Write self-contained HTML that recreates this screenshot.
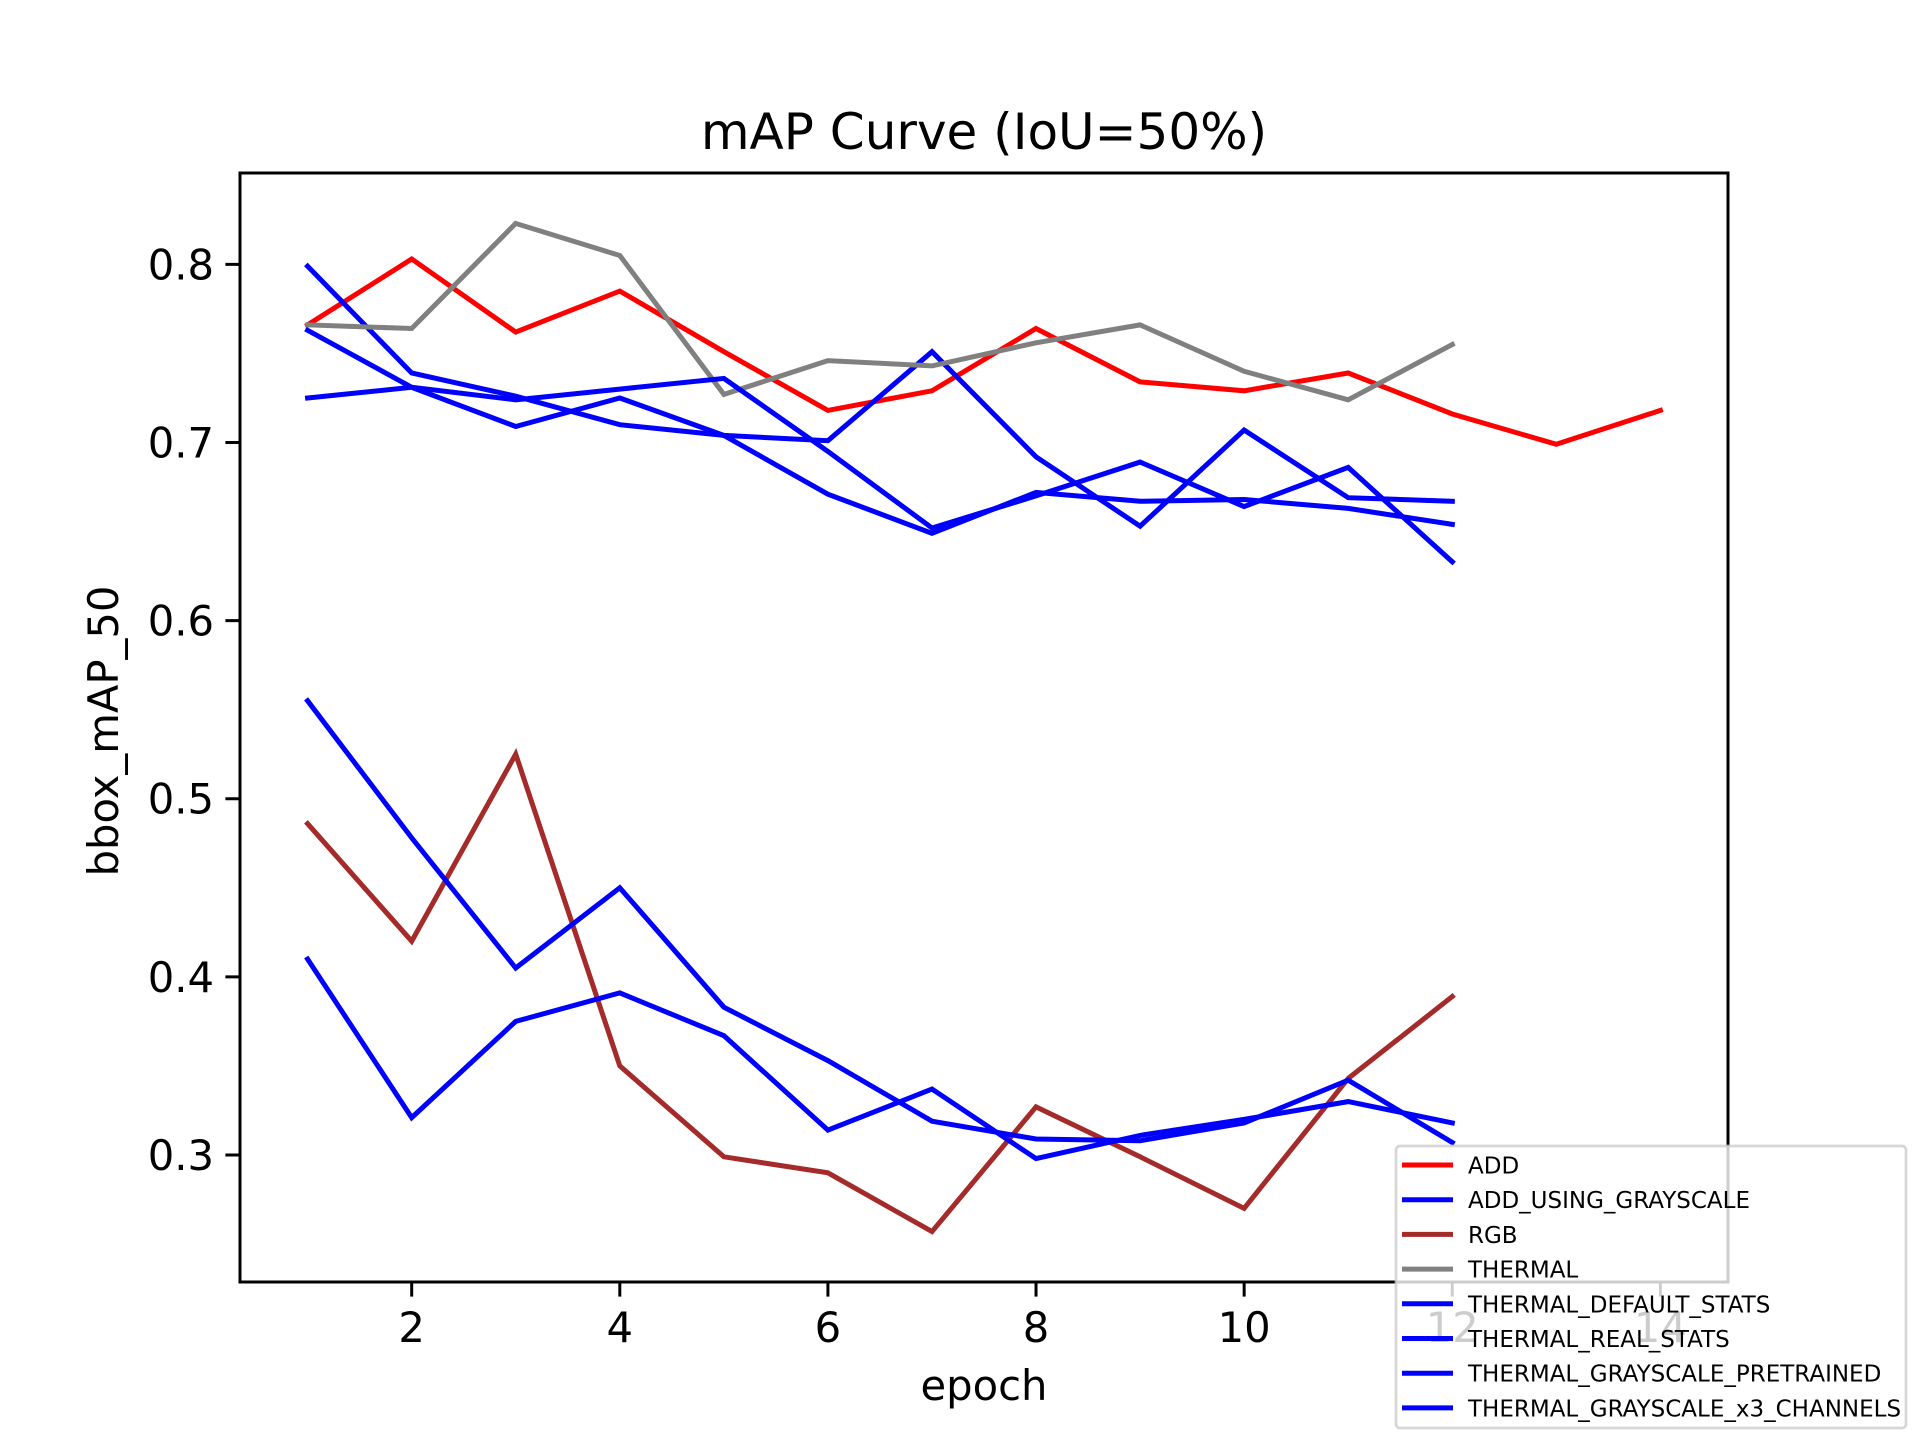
<!DOCTYPE html>
<html><head><meta charset="utf-8"><style>
html,body{margin:0;padding:0;background:#fff}
svg{display:block;font-family:"DejaVu Sans","Liberation Sans",sans-serif}
</style></head><body>
<svg id="chart" width="1920" height="1440" viewBox="0 0 1920 1440" xmlns="http://www.w3.org/2000/svg">
<rect width="1920" height="1440" fill="#fff"/>
<text x="984" y="149" font-size="50" text-anchor="middle">mAP Curve (IoU=50%)</text>
<g id="plot"></g>
<text x="984" y="1400" font-size="41.7" text-anchor="middle">epoch</text>
<text transform="translate(118,731) rotate(-90)" font-size="41.7" text-anchor="middle">bbox_mAP_50</text>
<g id="legend"></g>
</svg>
<script>
const xTicks = [2, 4, 6, 8, 10, 12, 14];
const yTicks = [0.3, 0.4, 0.5, 0.6, 0.7, 0.8];
const seriesNames = ["ADD","ADD_USING_GRAYSCALE","RGB","THERMAL","THERMAL_DEFAULT_STATS","THERMAL_REAL_STATS","THERMAL_GRAYSCALE_PRETRAINED","THERMAL_GRAYSCALE_x3_CHANNELS"];
const seriesColors = ["#ff0000","#0000ff","#a52a2a","#808080","#0000ff","#0000ff","#0000ff","#0000ff"];
const addValues = [0.766,0.803,0.762,0.785,0.751,0.718,0.729,0.764,0.734,0.729,0.739,0.716,0.699,0.718];
const addGrayValues = [0.799,0.739,0.726,0.710,0.704,0.701,0.751,0.692,0.653,0.707,0.669,0.667];
const rgbValues = [0.486,0.420,0.525,0.350,0.299,0.290,0.257,0.327,0.299,0.270,0.343,0.389];
const thermalValues = [0.766,0.764,0.823,0.805,0.727,0.746,0.743,0.756,0.766,0.740,0.724,0.755];
const defaultStatsValues = [0.763,0.731,0.709,0.725,0.704,0.671,0.649,0.672,0.667,0.668,0.663,0.654];
const realStatsValues = [0.725,0.731,0.724,0.730,0.736,0.695,0.652,0.670,0.689,0.664,0.686,0.633];
const pretrainedValues = [0.555,0.478,0.405,0.450,0.383,0.353,0.319,0.309,0.308,0.318,0.342,0.307];
const x3Values = [0.410,0.321,0.375,0.391,0.367,0.314,0.337,0.298,0.311,0.320,0.330,0.318];

const allSeries = [addValues, addGrayValues, rgbValues, thermalValues, defaultStatsValues, realStatsValues, pretrainedValues, x3Values];
const seriesKeys = ["add","add-using-grayscale","rgb","thermal","thermal-default-stats","thermal-real-stats","thermal-grayscale-pretrained","thermal-grayscale-x3-channels"];
const NS = "http://www.w3.org/2000/svg";
const L = 240, R = 1728, T = 173, B = 1282;
let maxLen = 0, ymin = Infinity, ymax = -Infinity;
allSeries.forEach(s => { maxLen = Math.max(maxLen, s.length); s.forEach(v => { ymin = Math.min(ymin, v); ymax = Math.max(ymax, v); }); });
const xr = maxLen - 1, x0 = 1 - 0.05 * xr, x1 = maxLen + 0.05 * xr;
const yr = ymax - ymin, y0 = ymin - 0.05 * yr, y1 = ymax + 0.05 * yr;
const xs = v => L + (v - x0) / (x1 - x0) * (R - L);
const ys = v => B - (v - y0) / (y1 - y0) * (B - T);
const plot = document.getElementById('plot');
function mk(tag, attrs, parent) { const e = document.createElementNS(NS, tag); for (const k in attrs) e.setAttribute(k, attrs[k]); parent.appendChild(e); return e; }

allSeries.forEach((s, i) => {
  const pts = s.map((v, j) => xs(j + 1).toFixed(1) + ',' + ys(v).toFixed(1)).join(' ');
  const pl = mk('polyline', {points: pts, fill: 'none', stroke: seriesColors[i], 'stroke-width': 5, 'stroke-linejoin': 'miter', 'stroke-linecap': 'square'}, plot);
  
  
});
const frame = mk('rect', {x: L, y: T, width: R - L, height: B - T, fill: 'none', stroke: '#000', 'stroke-width': 3}, plot);


xTicks.forEach(t => {
  const x = xs(t);
  const tk = mk('line', {x1: x, x2: x, y1: B, y2: B + 14.6, stroke: '#000', 'stroke-width': 3}, plot);
  
  
  const tx = mk('text', {x: x, y: B + 60, 'font-size': 41.7, 'text-anchor': 'middle'}, plot);
  tx.textContent = String(t);
  
  
});
yTicks.forEach(t => {
  const y = ys(t);
  const tk = mk('line', {x1: L - 14.6, x2: L, y1: y, y2: y, stroke: '#000', 'stroke-width': 3}, plot);
  
  
  const tx = mk('text', {x: L - 26, y: y + 15, 'font-size': 41.7, 'text-anchor': 'end'}, plot);
  tx.textContent = t.toFixed(1);
  
  
});

const lg = document.getElementById('legend');


mk('rect', {x: 1396, y: 1146, width: 510, height: 282, rx: 4, fill: '#fff', 'fill-opacity': 0.8, stroke: '#cccccc', 'stroke-opacity': 0.8, 'stroke-width': 2.7}, lg);
seriesNames.forEach((n, i) => {
  const y = 1165 + i * 34.7;
  const ln = mk('line', {x1: 1402, x2: 1453, y1: y, y2: y, stroke: seriesColors[i], 'stroke-width': 5}, lg);
  
  
  const tx = mk('text', {x: 1468, y: y + 8.5, 'font-size': 23}, lg);
  tx.textContent = n;
  
  
});
</script>
</body></html>
